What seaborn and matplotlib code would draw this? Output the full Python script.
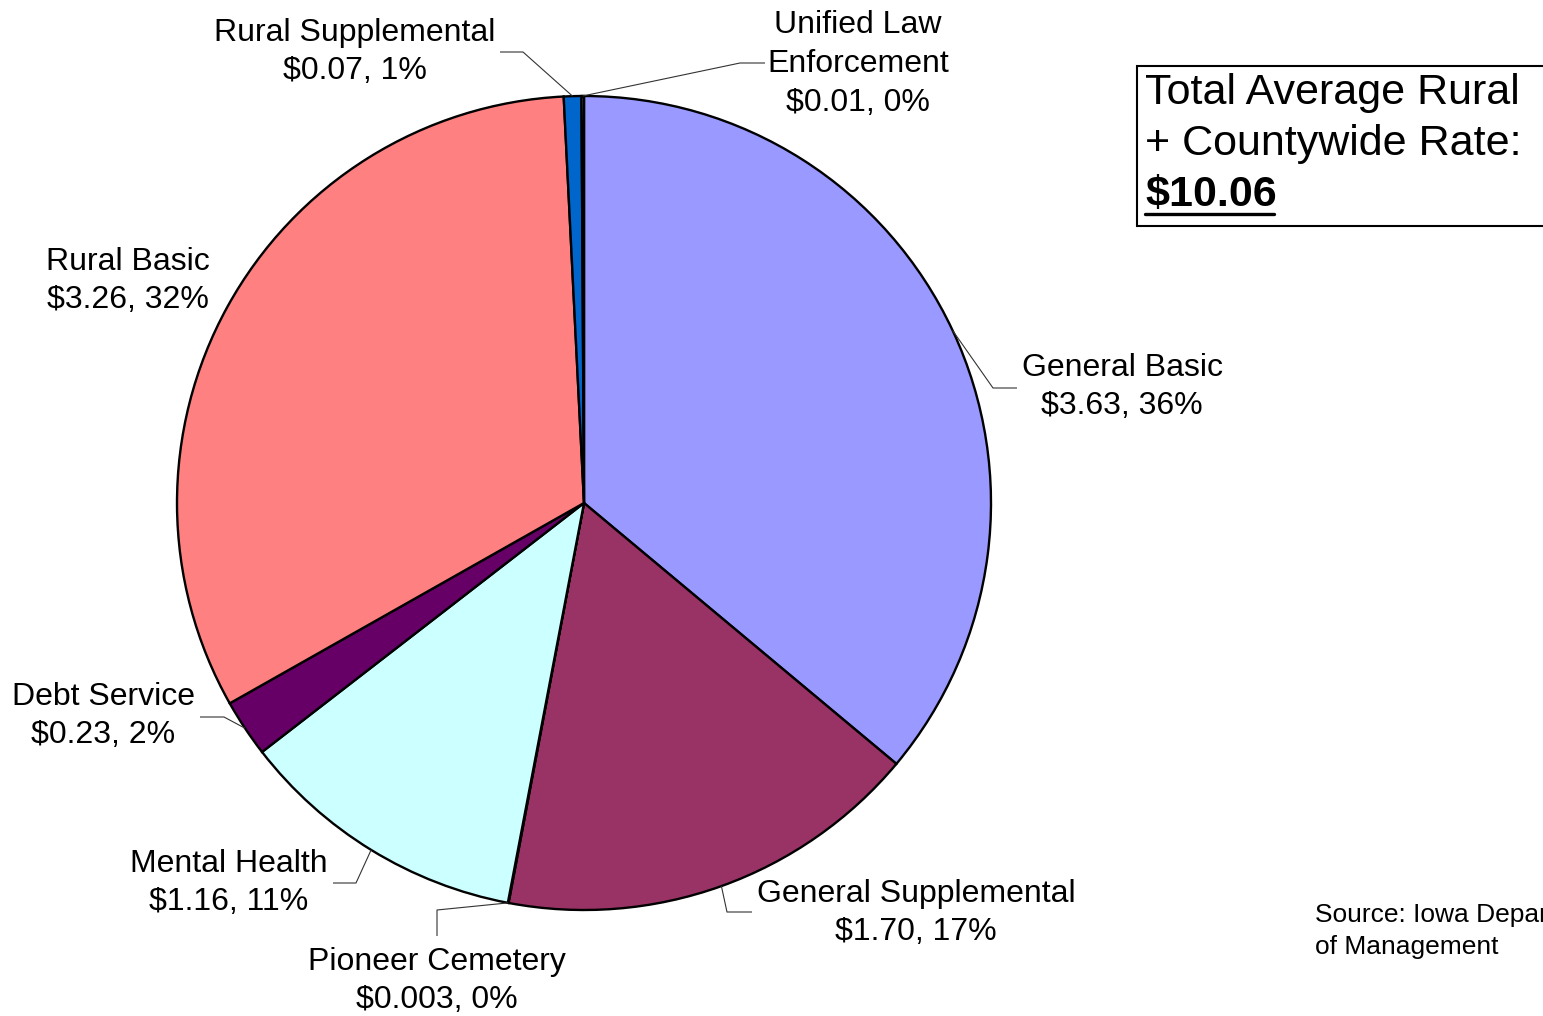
import numpy as np
import seaborn as sns
import matplotlib.pyplot as plt
from matplotlib.patches import Rectangle

# slices, clockwise from 12 o'clock
labels = ['General Basic', 'General Supplemental', 'Pioneer Cemetery', 'Mental Health',
          'Debt Service', 'Rural Basic', 'Rural Supplemental', 'Unified Law\nEnforcement']
values = [3.63, 1.70, 0.003, 1.16, 0.23, 3.26, 0.07, 0.01]
value_text = ['$3.63', '$1.70', '$0.003', '$1.16', '$0.23', '$3.26', '$0.07', '$0.01']
pct_text = ['36%', '17%', '0%', '11%', '2%', '32%', '1%', '0%']
colors = ['#9999FF', '#993366', '#FFFFCC', '#CCFFFF', '#660066', '#FF8080', '#0066CC', '#CCCCFF']
total_text = '$10.06'

sns.set_theme(style='white')
plt.rcParams['font.family'] = ['Liberation Sans', 'DejaVu Sans']
plt.rcParams['text.parse_math'] = False
plt.rcParams['text.color'] = 'black'

W, H = 1543, 1016
fig = plt.figure(figsize=(W / 100, H / 100), dpi=100)
ax = fig.add_axes([0, 0, 1, 1])
ax.set_xlim(0, W)
ax.set_ylim(0, H)
ax.set_aspect('equal')
ax.axis('off')


def py(y):
    # pixel row (from top) -> data y
    return H - y


cx, cy, r = 584, py(503), 407
wedges, _ = ax.pie(values, colors=colors, startangle=90, counterclock=False,
                   center=(cx, cy), radius=r,
                   wedgeprops=dict(edgecolor='black', linewidth=1.7))
ax.set_xlim(0, W)
ax.set_ylim(0, H)

# label layout: text centre, leader elbow, leader end (pixels from top)
layout = [
    ((1122, 387), (993, 388), (1017, 388)),
    ((916, 913), (727, 912), (752, 912)),
    ((437, 981), (437, 910), (437, 936)),
    ((229, 883), (356, 883), (333, 883)),
    ((103, 716), (224, 717), (200, 717)),
    ((128, 281), None, None),
    ((355, 52), (523, 52), (500, 52)),
    ((858, 64), (740, 63), (765, 63)),
]

for w, lab, vt, pt, (txy, elbow, end) in zip(wedges, labels, value_text, pct_text, layout):
    ax.text(txy[0], py(txy[1]), f'{lab}\n{vt}, {pt}', ha='center', va='center',
            fontsize=23, linespacing=1.38)
    if elbow is None:
        continue
    ang = np.deg2rad((w.theta1 + w.theta2) / 2)
    sx, sy = cx + r * np.cos(ang), cy + r * np.sin(ang)
    ax.plot([sx, elbow[0], end[0]], [sy, py(elbow[1]), py(end[1])],
            color='#333333', lw=0.8, solid_capstyle='butt')

# total box
ax.add_patch(Rectangle((1137, py(226)), 450, 160, facecolor='white',
                       edgecolor='black', lw=1.5))
ax.text(1145, py(93), 'Total Average Rural', ha='left', va='center', fontsize=31)
ax.text(1145, py(144), '+ Countywide Rate:', ha='left', va='center', fontsize=31)
ax.text(1145, py(195), total_text, ha='left', va='center', fontsize=31, fontweight='bold')
ax.plot([1145, 1274], [py(214), py(214)], color='black', lw=2.4)

ax.text(1315, py(931), 'Source: Iowa Department\nof Management', ha='left', va='center',
        fontsize=19, linespacing=1.4)

fig.savefig('out.png', dpi=100, facecolor='white')
